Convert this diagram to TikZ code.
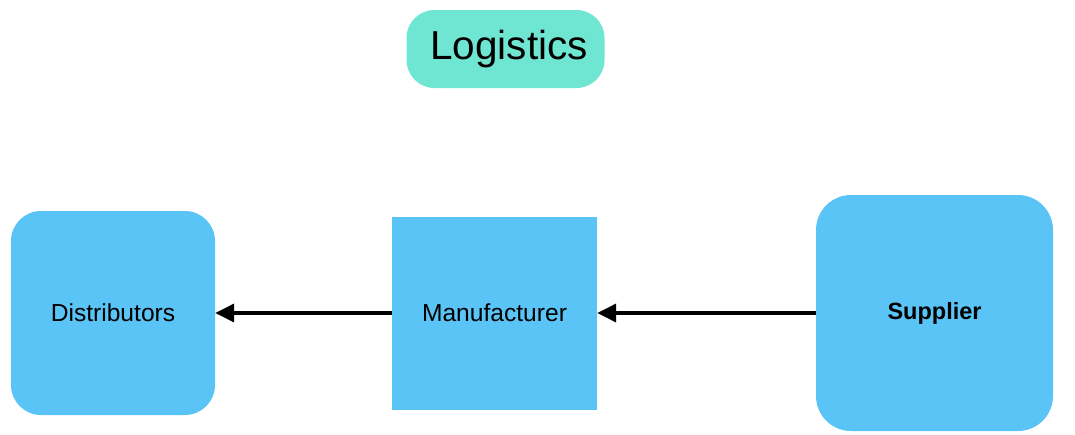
\documentclass[tikz,border=0pt]{standalone}
\usepackage{fontspec}
\setmainfont{Liberation Sans}
\usetikzlibrary{arrows.meta}
\definecolor{boxblue}{HTML}{5BC4F6}
\definecolor{turq}{HTML}{6EE6D2}
\begin{document}
\begin{tikzpicture}[x=1pt,y=-1pt,
  box/.style={fill=boxblue,draw=none,inner sep=0pt,font=\fontsize{24.6}{28}\selectfont},
  flow/.style={line width=3.5pt,-{Triangle[length=19pt,width=18pt]}}]
\useasboundingbox (0,0) rectangle (1075,434);
\node[fill=turq,rounded corners=28pt,minimum width=198pt,minimum height=78pt,inner sep=0pt,font=\fontsize{40.5}{44}\selectfont] (log) at (505.5,49) {\hspace*{7pt}Logistics};
\node[box,rounded corners=30pt,minimum width=204pt,minimum height=204pt] (dist) at (113,313) {Distributors};
\node[box,minimum width=205pt,minimum height=193pt] (man) at (494.5,313) {Manufacturer};
\node[box,rounded corners=35pt,minimum width=237pt,minimum height=236pt,font=\fontsize{23.5}{28}\selectfont\bfseries] (sup) at (934.5,313) {Supplier};
\draw[flow] (sup.west) -- (man.east);
\draw[flow] (man.west) -- (dist.east);
\end{tikzpicture}
\end{document}
